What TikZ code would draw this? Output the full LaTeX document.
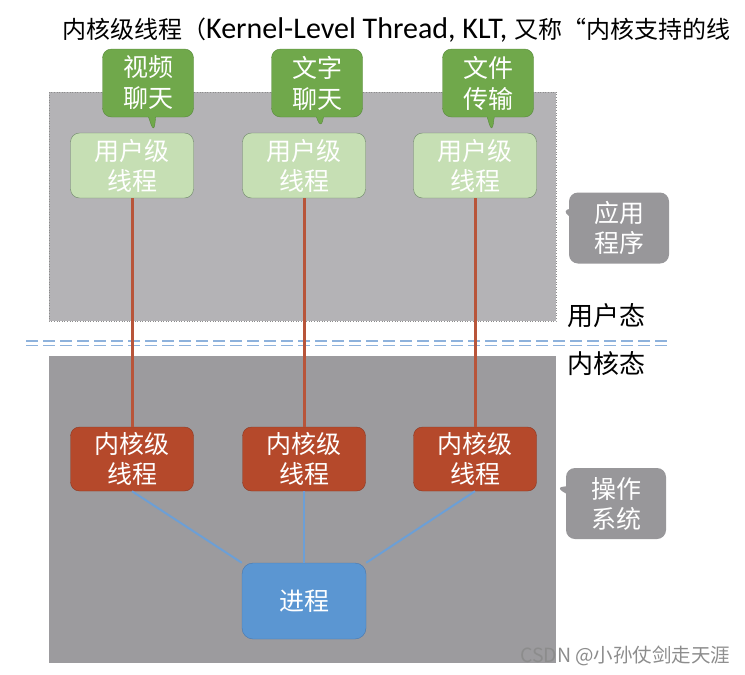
\documentclass[tikz,border=0pt]{standalone}
\usepackage{fontspec}
\setmainfont{Noto Sans CJK SC}
\newfontfamily\latinfont{Carlito}
\usetikzlibrary{shapes.callouts}

\definecolor{appgray}{RGB}{180,179,182}
\definecolor{osgray}{RGB}{156,155,158}
\definecolor{bubblegreen}{RGB}{112,168,75}
\definecolor{bubbleline}{RGB}{88,138,60}
\definecolor{usergreen}{RGB}{198,223,180}
\definecolor{userline}{RGB}{110,135,105}
\definecolor{kernelred}{RGB}{181,73,43}
\definecolor{kernelline}{RGB}{140,58,36}
\definecolor{procblue}{RGB}{91,150,210}
\definecolor{procline}{RGB}{72,120,175}
\definecolor{notegray}{RGB}{152,151,154}
\definecolor{redlink}{RGB}{184,85,58}
\definecolor{bluelink}{RGB}{108,159,214}
\definecolor{splitblue}{RGB}{142,178,220}

\begin{document}
\begin{tikzpicture}[x=1pt, y=-1pt,
    userthread/.style={draw=userline, fill=usergreen, rounded corners=9pt, minimum width=123pt, minimum height=65pt, text=white, align=center, font=\fontsize{25}{30}\selectfont},
    kernelthread/.style={draw=kernelline, fill=kernelred, rounded corners=9pt, minimum width=123pt, minimum height=64pt, text=white, align=center, font=\fontsize{25}{30}\selectfont},
    procbox/.style={draw=procline, fill=procblue, rounded corners=11pt, minimum width=124pt, minimum height=76pt, text=white, font=\fontsize{25}{30}\selectfont},
    appbubble/.style={rectangle callout, draw=bubbleline, fill=bubblegreen, rounded corners=9pt, minimum width=91pt, minimum height=68pt, text=white, align=center, font=\fontsize{25}{31}\selectfont},
    graynote/.style={rectangle callout, fill=notegray, rounded corners=9pt, minimum width=100pt, minimum height=71pt, text=white, align=center, font=\fontsize{25}{30}\selectfont},
    statelabel/.style={anchor=west, font=\fontsize{26}{26}\selectfont},
    uklink/.style={draw=redlink, line width=3pt},
    kplink/.style={draw=bluelink, line width=2pt}]
    \useasboundingbox (0,0) rectangle (745,675);

    % Draw regions
    \fill[appgray] (49,92) rectangle (556,321);
    \draw[black!45, dotted, line width=0.6pt] (49,92) rectangle (556,321);
    \fill[osgray] (49,356) rectangle (556,663);
    \draw[splitblue, line width=1.8pt, dash pattern=on 12pt off 5pt] (26,341) -- (670,341);
    \draw[splitblue, line width=1.8pt, dash pattern=on 12pt off 5pt] (26,345.5) -- (670,345.5);

    % Title
    \node[anchor=west, inner sep=0pt, font=\fontsize{24}{24}\selectfont] (title) at (62,30)
        {内核级线程（{\latinfont\fontsize{30}{30}\selectfont Kernel-Level Thread, KLT, }又称“内核支持的线};

    % Draw nodes
    \node[userthread] (u1) at (132,165.5) {用户级\\线程};
    \node[userthread] (u2) at (304,165.5) {用户级\\线程};
    \node[userthread] (u3) at (475,165.5) {用户级\\线程};

    \node[kernelthread] (k1) at (132,459) {内核级\\线程};
    \node[kernelthread] (k2) at (304,459) {内核级\\线程};
    \node[kernelthread] (k3) at (475,459) {内核级\\线程};

    \node[procbox] (p) at (304,601) {进程};

    % Callouts
    \node[appbubble, callout absolute pointer={(154,133)}] (b1) at (148,83) {视频\\聊天};
    \node[appbubble, callout absolute pointer={(321,129)}] (b2) at (317,83) {文字\\聊天};
    \node[appbubble, callout absolute pointer={(492,133)}] (b3) at (488,83) {文件\\传输};

    \node[graynote, callout absolute pointer={(561,210)}] (app) at (619,228) {应用\\程序};
    \node[graynote, callout absolute pointer={(555,487)}] (os) at (616,503.5) {操作\\系统};

    % Labels
    \node[statelabel] (ustate) at (564,316) {用户态};
    \node[statelabel] (kstate) at (564,364) {内核态};
    \node[anchor=east, text=black!45, font=\fontsize{19.5}{20}\selectfont] (mark) at (734,656) {CSDN @小孙仗剑走天涯};

    % Draw connections
    \draw[uklink] (u1) -- (k1);
    \draw[uklink] (u2) -- (k2);
    \draw[uklink] (u3) -- (k3);

    \draw[kplink] (k1.south) -- (p.north west);
    \draw[kplink] (k2.south) -- (p.north);
    \draw[kplink] (k3.south) -- (p.north east);
\end{tikzpicture}
\end{document}
